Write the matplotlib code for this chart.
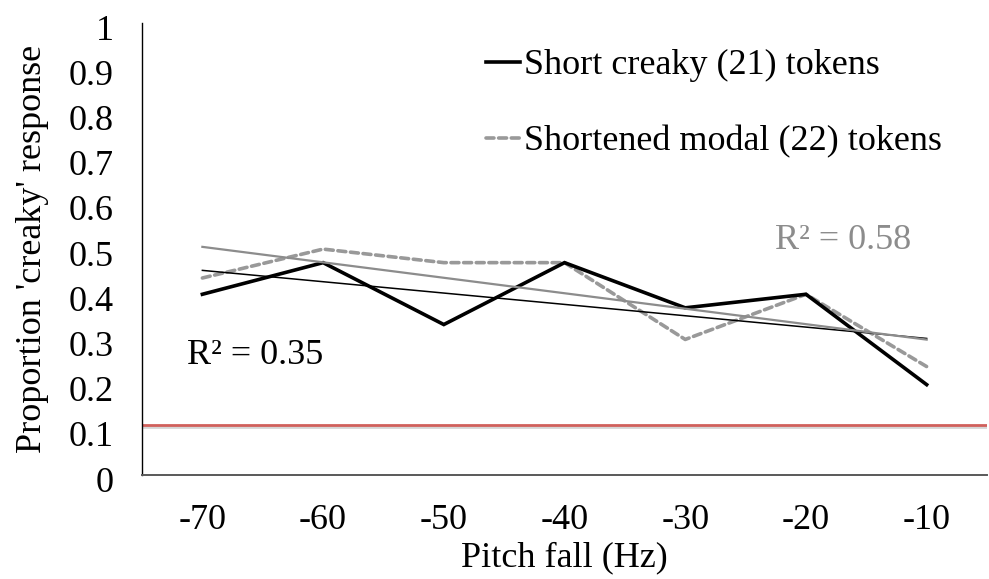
import numpy as np
import matplotlib
matplotlib.use('Agg')
import matplotlib.pyplot as plt
import matplotlib.patheffects as pe
from matplotlib.transforms import ScaledTranslation

# data
pitch_fall = ['-70', '-60', '-50', '-40', '-30', '-20', '-10']
short_creaky = [0.40, 0.47, 0.333, 0.47, 0.37, 0.40, 0.20]
shortened_modal = [0.436, 0.50, 0.47, 0.47, 0.30, 0.40, 0.24]
chance_level = 0.11
r2_creaky = 'R² = 0.35'
r2_modal = 'R² = 0.58'

plt.rcParams['font.family'] = ['Liberation Serif', 'DejaVu Serif']
fs = 26

fig = plt.figure(figsize=(9.89, 5.79), dpi=100)
ax = fig.add_axes([0.1436, 0.1796, 0.998 - 0.1436, 0.960 - 0.1796])

x = np.arange(len(pitch_fall))

ax.plot(x, short_creaky, color='black', lw=2.6, solid_joinstyle='miter',
        label='Short creaky (21) tokens', zorder=4)
ax.plot(x, shortened_modal, color='#999999', lw=2.6, ls=(0, (2.2, 1.3)),
        dash_capstyle='round', label='Shortened modal (22) tokens', zorder=3)

# linear trend lines
k1, b1 = np.polyfit(x + 1, short_creaky, 1)
k2, b2 = np.polyfit(x + 1, shortened_modal, 1)
ax.plot(x, k1 * (x + 1) + b1, color='black', lw=1.1, zorder=5)
ax.plot(x, k2 * (x + 1) + b2, color='#8c8c8c', lw=1.6, zorder=5)

ax.axhline(chance_level, color='#d0605c', lw=2.0, zorder=2,
           path_effects=[pe.SimpleLineShadow(offset=(0, -1.2), shadow_color='#bbbbbb', alpha=0.6),
                         pe.Normal()])

ax.text(0.44, 0.265, r2_creaky, fontsize=fs, color='black',
        ha='center', va='center')
ax.text(5.31, 0.52, r2_modal, fontsize=fs, color='#8c8c8c',
        ha='center', va='center')

ax.set_xlim(-0.5, 6.5)
ax.set_ylim(0, 1)
ax.set_xticks(x)
ax.set_xticklabels(pitch_fall)
ax.set_yticks(np.arange(0, 1.01, 0.1))
ax.set_yticklabels(['0', '0.1', '0.2', '0.3', '0.4', '0.5', '0.6', '0.7', '0.8', '0.9', '1'])
ax.tick_params(axis='both', length=0, labelsize=fs)
ax.tick_params(axis='y', pad=20.5)
ax.tick_params(axis='x', pad=21)
shift = ScaledTranslation(0, -4 / 100, fig.dpi_scale_trans)
for lab in ax.get_yticklabels():
    lab.set_transform(lab.get_transform() + shift)

ax.spines['top'].set_visible(False)
ax.spines['right'].set_visible(False)
ax.spines['left'].set_color('black')
ax.spines['left'].set_linewidth(1.0)
ax.spines['bottom'].set_color('#595959')
ax.spines['bottom'].set_linewidth(1.4)

ax.set_xlabel('Pitch fall (Hz)', fontsize=fs, labelpad=3)
ax.set_ylabel("Proportion 'creaky' response", fontsize=fs, labelpad=14)

ax.legend(loc='upper left', bbox_to_anchor=(0.39, 0.975), frameon=False,
          fontsize=fs, handlelength=0.95, handletextpad=0.1, labelspacing=1.2,
          borderaxespad=0)

fig.savefig('out.png', dpi=100)
